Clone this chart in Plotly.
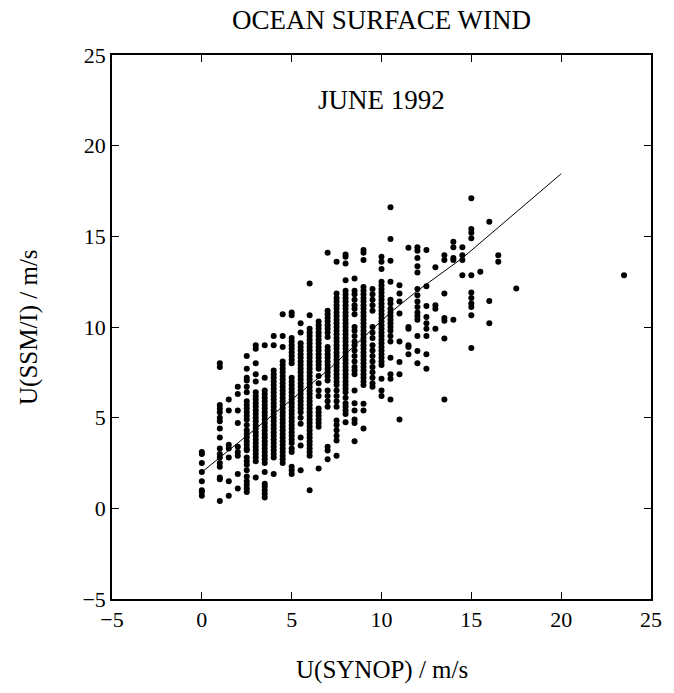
import plotly.graph_objects as go

# SYNOP wind speed columns (m/s) and SSM/I wind speeds
col_x = [0.0, 1.0, 1.5, 2.0, 2.5, 3.0, 3.5, 4.0, 4.5, 5.0, 5.5, 6.0, 6.5, 7.0,
         7.5, 8.0, 8.5, 9.0, 9.5, 10.0, 10.5, 11.0, 11.5, 12.0, 12.5, 13.0,
         13.5, 14.0, 14.5, 15.0, 15.5, 16.0, 16.5, 17.5, 23.5]

col_y = [
    [3.1, 3.0, 2.5, 2.0, 1.5, 1.0, 0.9, 0.7],
    [8.0, 7.8, 5.7, 5.5, 5.3, 5.0, 4.8, 4.4, 3.9, 3.3, 3.0, 2.8, 2.5, 2.3, 1.7, 1.6, 0.4],
    [6.0, 5.4, 3.5, 3.3, 2.8, 1.5, 0.7],
    [6.7, 6.3, 5.4, 4.7, 3.4, 3.1, 2.9, 1.9, 1.1],
    [8.4, 7.7, 7.2, 7.05, 6.7, 6.4, 5.9, 5.7, 5.5, 5.3, 5.1, 4.9, 4.6, 4.3, 4.1, 3.9,
     3.7, 3.5, 3.3, 3.2, 2.8, 2.6, 2.4, 2.1, 1.75, 1.5, 1.3, 1.1, 0.9],
    [9.0, 8.8, 8.0, 7.4, 7.0, 6.4, 6.2, 6.0, 5.8, 5.6, 5.4, 5.2, 5.0, 4.8, 4.6, 4.4,
     4.2, 4.0, 3.8, 3.6, 3.4, 3.2, 3.0, 2.8, 2.6, 1.7],
    [9.0, 7.2, 6.5, 6.3, 6.1, 5.9, 5.7, 5.5, 5.3, 5.1, 4.9, 4.7, 4.5, 4.3, 4.1, 3.9,
     3.7, 3.5, 3.3, 3.1, 2.9, 2.7, 2.5, 2.0, 1.35, 1.2, 1.0, 0.8, 0.6],
    [9.5, 9.0, 7.6, 7.4, 7.2, 7.0, 6.8, 6.6, 6.4, 6.2, 6.0, 5.8, 5.6, 5.4, 5.2, 5.0,
     4.8, 4.6, 4.4, 4.2, 4.0, 3.8, 3.6, 3.4, 3.2, 3.0, 2.8, 1.9],
    [10.7, 9.5, 8.9, 8.1, 7.9, 7.7, 7.5, 7.3, 7.1, 6.9, 6.7, 6.5, 6.3, 6.1, 5.9, 5.7,
     5.5, 5.3, 5.1, 4.9, 4.7, 4.5, 4.3, 4.1, 3.9, 3.7, 3.5, 3.3, 3.1, 2.9, 2.7, 2.5],
    [10.8, 10.65, 9.4, 9.2, 9.0, 8.8, 8.6, 8.4, 8.2, 8.0, 7.2, 7.0, 6.8, 6.6, 6.4, 6.2,
     6.0, 5.8, 5.6, 5.4, 5.2, 5.0, 4.8, 4.6, 4.4, 4.2, 4.0, 3.8, 3.6, 3.3, 3.1, 2.3, 2.1, 1.9],
    [10.2, 9.7, 9.1, 8.9, 8.7, 8.5, 8.3, 8.1, 7.9, 7.7, 7.5, 7.3, 7.1, 6.9, 6.7, 6.5,
     6.3, 6.1, 5.9, 5.7, 5.5, 5.3, 5.0, 4.66, 3.9, 3.46, 2.1],
    [12.4, 10.65, 9.9, 9.7, 9.5, 9.3, 9.1, 8.9, 8.7, 8.5, 8.3, 8.1, 7.9, 7.7, 7.5, 7.3,
     7.1, 6.9, 6.7, 6.5, 6.3, 6.1, 5.9, 5.7, 5.5, 5.3, 5.1, 4.9, 4.7, 4.5, 4.3, 4.1,
     3.9, 3.7, 3.5, 3.3, 3.1, 2.9, 1.0],
    [10.3, 10.1, 9.9, 9.7, 9.5, 9.3, 9.1, 8.9, 8.7, 8.5, 8.3, 8.1, 7.9, 7.7, 7.3, 6.9,
     6.5, 6.2, 5.5, 5.3, 5.1, 4.9, 4.7, 4.5, 2.2],
    [14.1, 10.9, 10.7, 10.5, 10.3, 10.1, 9.9, 9.7, 9.45, 8.9, 8.7, 8.5, 8.3, 8.1, 7.9,
     7.7, 7.5, 7.3, 7.05, 6.5, 6.2, 5.9, 5.6, 3.4, 3.19, 2.7],
    [13.6, 11.85, 11.6, 11.4, 11.2, 11.0, 10.8, 10.6, 10.4, 10.2, 10.0, 9.8, 9.6, 9.4,
     9.2, 9.0, 8.8, 8.6, 8.4, 8.2, 8.0, 7.8, 7.6, 7.4, 7.2, 7.0, 6.8, 6.5, 6.2, 5.9,
     5.6, 4.85, 4.6, 4.3, 4.0, 3.74, 2.9],
    [14.0, 13.87, 13.5, 12.58, 12.0, 11.8, 11.6, 11.4, 11.2, 11.0, 10.8, 10.6, 10.4,
     10.2, 10.0, 9.8, 9.6, 9.4, 9.2, 9.0, 8.8, 8.6, 8.4, 8.2, 8.0, 7.8, 7.6, 7.4, 7.2,
     7.0, 6.8, 6.6, 6.4, 6.1, 5.8, 5.6, 5.4, 5.2, 4.75],
    [12.67, 12.0, 11.8, 11.5, 11.2, 11.0, 10.7, 10.0, 9.8, 9.5, 9.2, 9.0, 8.7, 8.4,
     8.1, 7.8, 7.6, 7.4, 6.5, 5.8, 5.4, 4.9, 4.7, 3.7],
    [14.24, 14.1, 13.7, 12.2, 12.0, 11.8, 11.6, 11.4, 11.2, 11.0, 10.8, 10.6, 10.4,
     10.2, 10.0, 9.8, 9.6, 9.4, 9.2, 9.0, 8.8, 8.6, 8.4, 8.2, 8.0, 7.8, 7.6, 7.4, 7.2,
     7.0, 6.8, 5.77, 5.4, 4.4],
    [12.1, 11.8, 11.5, 11.2, 10.9, 10.0, 9.7, 9.4, 9.0, 8.7, 8.4, 8.1, 7.8, 7.5, 7.2,
     6.9, 6.7],
    [13.87, 13.6, 13.2, 12.5, 12.3, 12.1, 11.9, 11.7, 11.5, 11.3, 11.1, 10.9, 10.7,
     10.5, 10.3, 10.1, 9.9, 9.7, 9.5, 9.3, 9.1, 8.9, 8.7, 8.5, 8.3, 8.1, 7.9, 7.15,
     6.5, 6.2],
    [16.6, 14.85, 13.65, 12.5, 11.5, 11.3, 11.0, 10.8, 10.6, 10.4, 10.2, 10.0, 9.8,
     9.5, 9.2, 8.3, 7.4, 7.15, 6.0],
    [12.3, 11.85, 11.4, 10.74, 9.2, 8.07, 7.4, 4.9],
    [14.37, 10.0, 9.9, 9.0, 8.9, 8.5],
    [14.4, 14.2, 13.8, 13.35, 13.0, 12.1, 11.75, 11.4, 11.1, 10.8, 10.6, 10.4, 9.5,
     8.67, 8.0],
    [14.24, 12.25, 11.16, 10.55, 10.2, 9.9, 9.5, 8.5, 7.7],
    [13.3, 11.2, 11.0, 9.9],
    [13.96, 13.7, 11.85, 10.5, 10.35, 9.36, 6.0],
    [14.7, 14.4, 13.8, 13.7, 10.4],
    [14.4, 13.96, 13.7, 12.86],
    [17.1, 15.4, 15.2, 14.9, 12.86, 11.9, 11.6, 11.3, 11.1, 10.65, 8.84],
    [13.04],
    [15.8, 11.44, 10.2],
    [13.96, 13.6],
    [12.12],
    [12.86],
]

# fitted line knots
line_x = [0.0, 3.3, 7.0, 10.5, 12.0, 14.5, 20.0]
line_y = [2.0, 4.65, 7.6, 10.8, 12.0, 13.8, 18.45]

tick_vals = [-5, 0, 5, 10, 15, 20, 25]

xs, ys = [], []
for cx, cy in zip(col_x, col_y):
    for v in cy:
        xs.append(cx)
        ys.append(v)

FONT = "Liberation Serif, Times New Roman, serif"

fig = go.Figure()
fig.add_trace(go.Scatter(x=xs, y=ys, mode="markers",
                         marker=dict(symbol="circle", size=6, color="black",
                                     line=dict(width=0)),
                         showlegend=False, hoverinfo="skip"))
fig.add_trace(go.Scatter(x=line_x, y=line_y, mode="lines",
                         line=dict(color="black", width=1),
                         showlegend=False, hoverinfo="skip"))

axis_common = dict(showgrid=False, zeroline=False, showline=True, linecolor="black",
                   linewidth=1.5, mirror="ticks", ticks="inside", ticklen=7,
                   tickwidth=1, tickcolor="black", tickvals=tick_vals,
                   tickfont=dict(family=FONT, size=22, color="black"))

fig.update_xaxes(range=[-5, 25], **axis_common)
fig.update_yaxes(range=[-5, 25], **axis_common)

fig.update_layout(
    width=674, height=693,
    margin=dict(l=112, r=17, t=55, b=94),
    paper_bgcolor="white", plot_bgcolor="white",
    font=dict(family=FONT, color="black"),
    annotations=[
        dict(text="OCEAN SURFACE WIND", x=0.5, y=1.064, xref="paper", yref="paper",
             showarrow=False, font=dict(size=27, family=FONT), xanchor="center",
             yanchor="middle"),
        dict(text="JUNE 1992", x=0.5, y=0.917, xref="paper", yref="paper",
             showarrow=False, font=dict(size=27, family=FONT), xanchor="center",
             yanchor="middle"),
        dict(text="U(SYNOP) / m/s", x=0.5, y=-0.1305, xref="paper", yref="paper",
             showarrow=False, font=dict(size=25, family=FONT), xanchor="center",
             yanchor="middle"),
        dict(text="U(SSM/I) / m/s", x=-0.154, y=0.5, xref="paper", yref="paper",
             showarrow=False, font=dict(size=25, family=FONT), xanchor="center",
             yanchor="middle", textangle=-90),
    ],
)

fig.write_html("out.html", config={"displayModeBar": False},
               post_script="document.body.style.margin='0';document.body.style.padding='0';")
